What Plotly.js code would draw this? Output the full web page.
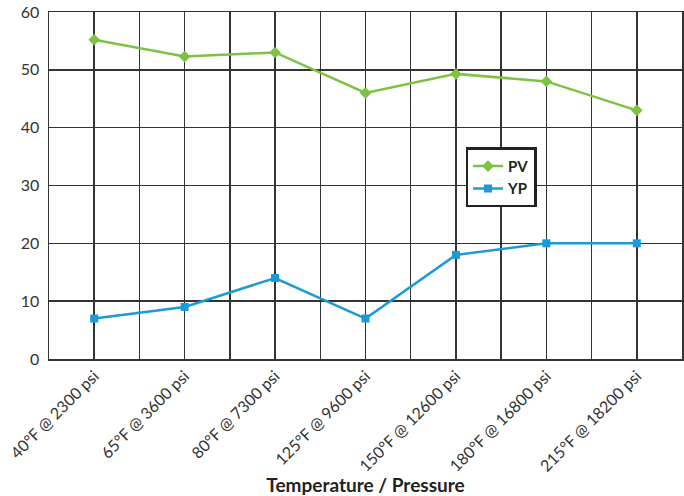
<!DOCTYPE html>
<html>
<head>
<meta charset="utf-8">
<script src="https://cdn.plot.ly/plotly-3.0.1.min.js"></script>
<style>html,body{margin:0;padding:0;background:#fff;}#chart{width:684px;height:496px;}</style>
</head>
<body>
<div id="chart"></div>
<script>
var categories = ["40°F @ 2300 psi", "65°F @ 3600 psi", "80°F @ 7300 psi", "125°F @ 9600 psi", "150°F @ 12600 psi", "180°F @ 16800 psi", "215°F @ 18200 psi"];
var pvValues = [55.2, 52.3, 53, 46, 49.3, 48, 43];
var ypValues = [7, 9, 14, 7, 18, 20, 20];
var yTicks = [0, 10, 20, 30, 40, 50, 60];

var idx = categories.map(function(c, i){ return i; });

var traces = [
  {x: idx, y: pvValues, name: "PV", type: "scatter", mode: "lines+markers",
   line: {color: "#7dc242", width: 2.5}, marker: {symbol: "diamond", size: 9, color: "#7dc242"}},
  {x: idx, y: ypValues, name: "YP", type: "scatter", mode: "lines+markers",
   line: {color: "#1a9ad6", width: 2.5}, marker: {symbol: "square", size: 8, color: "#1a9ad6"}}
];

var layout = {
  width: 684, height: 496,
  margin: {l: 49, r: 2, t: 12, b: 137},
  paper_bgcolor: "#fff", plot_bgcolor: "#fff",
  font: {family: "Lato, 'Open Sans', sans-serif", color: "#333"},
  showlegend: true,
  legend: {x: 0.658, y: 0.61, xanchor: "left", yanchor: "top", bgcolor: "#fff",
           bordercolor: "#222", borderwidth: 2.5, font: {size: 15, color: "#222", weight: "bold"},
           tracegroupgap: 2},
  xaxis: {
    range: [-0.5, 6.5], tickmode: "array", tickvals: idx, ticktext: categories,
    tickangle: -45, tickfont: {size: 16, color: "#333"},
    showgrid: true, gridcolor: "#333", gridwidth: 1.5,
    minor: {tickmode: "linear", tick0: -0.5, dtick: 1, showgrid: true, gridcolor: "#333", gridwidth: 1.5},
    showline: true, linecolor: "#333", linewidth: 1.5, mirror: true, zeroline: false,
    ticks: "", fixedrange: true,
    title: {text: "Temperature / Pressure", font: {size: 19, color: "#222", weight: "bold"}, standoff: 11}
  },
  yaxis: {
    range: [0, 60], tickmode: "array", tickvals: yTicks,
    tickfont: {size: 16, color: "#333"},
    showgrid: true, gridcolor: "#333", gridwidth: 1.5,
    showline: true, linecolor: "#333", linewidth: 1.5, mirror: true, zeroline: false,
    ticks: "", ticklabelstandoff: 5, fixedrange: true
  }
};

Plotly.newPlot("chart", traces, layout, {displayModeBar: false, staticPlot: true});
</script>
</body>
</html>
